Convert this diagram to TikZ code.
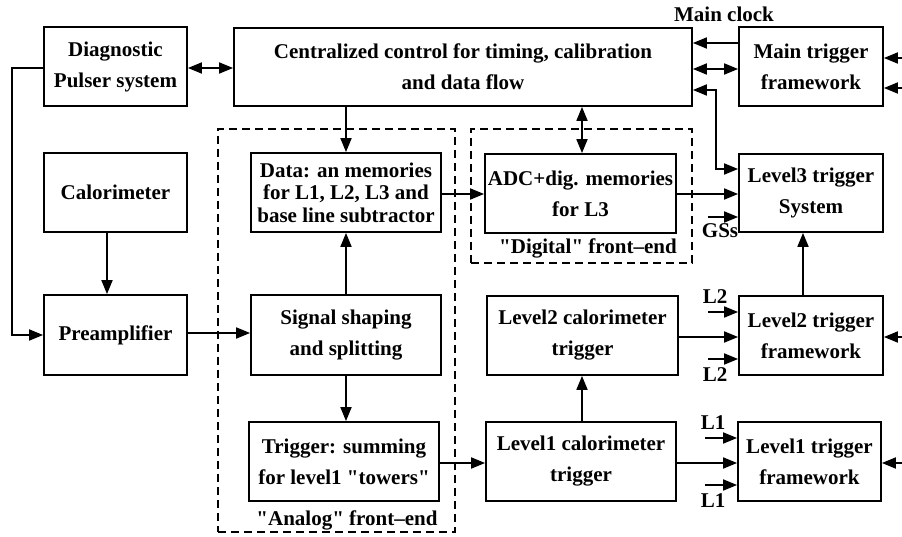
\documentclass[tikz,border=0pt]{standalone}
\usepackage{fontspec}
\setmainfont{Liberation Serif}[Ligatures=TeXOff]
\usetikzlibrary{arrows.meta}
\newcommand\dgfont{\fontsize{21}{31}\selectfont\bfseries}
\newcommand\dgfonttight{\fontsize{21}{22.5}\selectfont\bfseries}
\begin{document}
\begin{tikzpicture}[x=1pt,y=-1pt,
  box/.style={draw, line width=1.8pt, align=center, inner sep=0pt, font=\dgfont},
  dashbox/.style={draw, line width=1.8pt, dash pattern=on 8pt off 5pt, inner sep=0pt},
  lbl/.style={inner sep=0pt, anchor=base, font=\dgfont},
  arr/.style={line width=1.8pt, -{Triangle[length=14pt,width=11pt]}},
  darr/.style={line width=1.8pt, {Triangle[length=14pt,width=11pt]}-{Triangle[length=14pt,width=11pt]}},
  ln/.style={line width=1.8pt}]
\useasboundingbox (0,0) rectangle (902,537);
% dashed groups
\node[dashbox, minimum width=237pt, minimum height=403pt] (analog) at (336.5,330.5) {};
\node[dashbox, minimum width=221pt, minimum height=134pt] (digital) at (581.5,196) {};
% boxes
\node[box, minimum width=143pt, minimum height=79pt] (diag) at (115.5,66.5) {Diagnostic\\Pulser system};
\node[box, minimum width=458pt, minimum height=78pt] (cent) at (463,67) {Centralized control for timing, calibration\\and data flow};
\node[box, minimum width=144pt, minimum height=79pt] (mtf) at (811,66.5) {Main trigger\\framework};
\node[box, minimum width=143pt, minimum height=79pt] (calo) at (115.5,192.5) {Calorimeter};
\node[box, minimum width=190pt, minimum height=79pt, font=\dgfonttight] (data) at (346,192.5) {Data: an memories\\for L1, L2, L3 and\\base line subtractor};
\node[box, minimum width=191pt, minimum height=79pt] (adc) at (580.5,193.5) {ADC+dig. memories\\for L3};
\node[box, minimum width=144pt, minimum height=78pt] (l3) at (811,193) {Level3 trigger\\System};
\node[box, minimum width=143pt, minimum height=80pt] (pre) at (115.5,335) {Preamplifier};
\node[box, minimum width=190pt, minimum height=80pt] (sig) at (346,335) {Signal shaping\\and splitting};
\node[box, minimum width=190pt, minimum height=79pt] (trg) at (344,461.5) {Trigger: summing\\for level1 "towers"};
\node[box, minimum width=191pt, minimum height=79pt] (l2c) at (582.5,335.5) {Level2 calorimeter\\trigger};
\node[box, minimum width=144pt, minimum height=79pt] (l2f) at (811,335.5) {Level2 trigger\\framework};
\node[box, minimum width=190pt, minimum height=79pt] (l1c) at (581,461.5) {Level1 calorimeter\\trigger};
\node[box, minimum width=143pt, minimum height=79pt] (l1f) at (809.5,461.5) {Level1 trigger\\framework};
% labels
\node[lbl] (mclk) at (724,22) {Main clock};
\node[lbl] (alab) at (347,525) {"Analog" front\textendash end};
\node[lbl] (dlab) at (588,254) {"Digital" front\textendash end};
\node[lbl] (gsl) at (720,238) {GSs};
\node[lbl] (l2a) at (715,304) {L2};
\node[lbl] (l2b) at (715,381) {L2};
\node[lbl] (l1a) at (713,429) {L1};
\node[lbl] (l1b) at (713,507) {L1};
% free ends
\coordinate (gss) at (708,217);
\coordinate (l2s1) at (708,312);
\coordinate (l2s2) at (708,359);
\coordinate (l1s1) at (705,438);
\coordinate (l1s2) at (705,485);
\coordinate (rm1) at (902,58);
\coordinate (rm2) at (902,88);
\coordinate (r2) at (902,337);
\coordinate (r1) at (902,463);
% connectors
\draw[darr] ([yshift=-1.5pt]diag.east) -- ([yshift=-1.5pt]diag.east -| cent.west);
\draw[arr] ([yshift=-1.5pt]diag.west) -- ++(-31,0) |- (pre.west);
\draw[arr] ([xshift=-8.5pt]calo.south) -- ([xshift=-8.5pt]calo.south |- pre.north);
\draw[arr] ([yshift=2pt]pre.east) -- ([yshift=2pt]pre.east -| sig.west);
\draw[arr] (data.north |- cent.south) -- (data.north);
\draw[arr] (sig.north) -- (data.south);
\draw[arr] (sig.south) -- (sig.south |- trg.north);
\draw[arr] ([yshift=-1.5pt]data.east) -- ([yshift=-1.5pt]data.east -| adc.west);
\draw[arr] ([yshift=-0.5pt]adc.east) -- ([yshift=-0.5pt]adc.east -| l3.west);
\draw[darr] ([xshift=1.5pt]adc.north) -- ([xshift=1.5pt]adc.north |- cent.south);
\draw[arr] ([yshift=-1.5pt]trg.east) -- ([yshift=-1.5pt]trg.east -| l1c.west);
\draw[arr] ([xshift=1pt]l1c.north) -- ([xshift=1pt]l1c.north |- l2c.south);
\draw[arr] ([yshift=-1.5pt]l1c.east) -- ([yshift=-1.5pt]l1c.east -| l1f.west);
\draw[arr] ([yshift=-1.5pt]l2c.east) -- ([yshift=-1.5pt]l2c.east -| l2f.west);
\draw[arr] ([xshift=-8pt]l2f.north) -- ([xshift=-8pt]l2f.north |- l3.south);
\draw[arr] ([yshift=23.5pt]mtf.west) -- ([yshift=23.5pt]mtf.west -| cent.east);
\draw[darr] ([yshift=-2.5pt]mtf.west) -- ([yshift=-2.5pt]mtf.west -| cent.east);
\draw[darr] ([yshift=-23pt]cent.east) -- ++(23,0) |- ([yshift=24pt]l3.west);
\draw[arr] (gss) -- (gss -| l3.west);
\draw[arr] (l2s1) -- (l2s1 -| l2f.west);
\draw[arr] (l2s2) -- (l2s2 -| l2f.west);
\draw[arr] (l1s1) -- (l1s1 -| l1f.west);
\draw[arr] (l1s2) -- (l1s2 -| l1f.west);
\draw[arr] (rm1) -- (rm1 -| mtf.east);
\draw[arr] (rm2) -- (rm2 -| mtf.east);
\draw[arr] (r2) -- (r2 -| l2f.east);
\draw[arr] (r1) -- (r1 -| l1f.east);
\end{tikzpicture}
\end{document}
